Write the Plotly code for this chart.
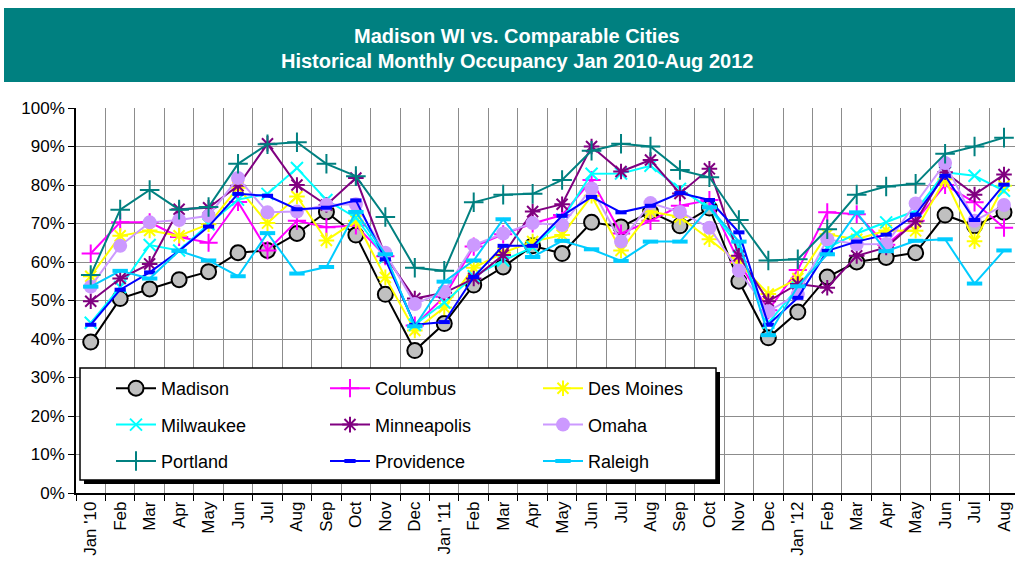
import plotly.graph_objects as go

# ---------------- data ----------------
months = ["Jan '10", "Feb", "Mar", "Apr", "May", "Jun", "Jul", "Aug", "Sep", "Oct", "Nov", "Dec",
          "Jan '11", "Feb", "Mar", "Apr", "May", "Jun", "Jul", "Aug", "Sep", "Oct", "Nov", "Dec",
          "Jan '12", "Feb", "Mar", "Apr", "May", "Jun", "Jul", "Aug"]

madison = [39.2, 50.5, 53.0, 55.4, 57.5, 62.4, 63.0, 67.4, 73.0, 67.0, 51.6, 37.0,
           44.0, 54.0, 58.7, 64.2, 62.2, 70.3, 69.1, 73.0, 69.4, 74.0, 55.0, 40.3,
           47.0, 56.1, 60.0, 61.2, 62.4, 72.2, 69.4, 72.9]
columbus = [62.2, 70.3, 70.3, 66.5, 65.0, 75.6, 63.0, 70.7, 69.0, 69.5, 61.5, 43.5,
            51.0, 64.0, 67.2, 70.0, 72.2, 81.3, 67.4, 70.7, 74.6, 76.1, 60.0, 47.5,
            57.9, 72.9, 72.4, 64.5, 70.7, 80.0, 75.5, 68.9]
des_moines = [56.3, 66.8, 68.2, 66.8, 69.8, 79.3, 70.1, 77.0, 65.6, 70.7, 56.0, 42.2,
              48.2, 58.5, 62.4, 65.3, 67.0, 77.2, 63.0, 73.1, 71.7, 65.9, 59.8, 51.7,
              55.7, 67.2, 65.9, 68.2, 68.1, 81.5, 65.4, 79.8]
milwaukee = [44.2, 53.5, 64.4, 63.0, 69.8, 76.2, 77.7, 84.4, 76.1, 71.5, 61.2, 43.7,
             49.5, 56.3, 60.4, 63.8, 71.0, 82.9, 83.0, 85.0, 79.0, 74.0, 64.0, 44.2,
             53.3, 63.7, 67.4, 70.3, 73.3, 83.3, 82.4, 78.5]
minneapolis = [49.8, 55.7, 59.5, 73.7, 74.1, 79.8, 90.7, 80.0, 74.8, 81.8, 61.6, 50.5,
               52.0, 55.7, 61.8, 73.1, 75.0, 90.0, 83.5, 86.5, 77.8, 84.2, 61.6, 49.8,
               54.3, 53.3, 61.6, 63.8, 70.5, 83.3, 77.5, 82.7]
omaha = [53.6, 64.2, 70.3, 70.9, 72.0, 81.8, 72.9, 73.1, 74.9, 75.0, 62.4, 49.1,
         52.3, 64.4, 67.4, 70.1, 69.6, 79.1, 65.3, 75.3, 73.0, 68.9, 57.8, 47.2,
         51.6, 65.9, 64.6, 64.7, 75.2, 85.7, 70.7, 74.8]
portland = [56.6, 73.6, 78.7, 73.6, 74.3, 85.5, 90.6, 91.1, 85.5, 82.3, 71.7, 58.5,
            57.7, 75.5, 77.5, 77.7, 81.3, 88.9, 90.7, 90.0, 83.9, 82.0, 70.9, 60.4,
            60.7, 68.5, 77.5, 79.6, 80.3, 88.1, 90.0, 92.3]
providence = [43.7, 52.8, 57.3, 62.9, 69.2, 77.7, 77.2, 73.7, 74.1, 76.0, 60.7, 43.7,
              44.4, 56.1, 64.2, 64.2, 72.0, 76.9, 72.9, 74.6, 77.9, 76.1, 67.7, 43.7,
              50.7, 62.9, 65.3, 67.1, 72.3, 82.4, 70.9, 80.1]
raleigh = [53.6, 57.7, 55.7, 62.9, 60.4, 56.3, 67.5, 57.0, 58.7, 73.0, 62.0, 43.3,
           54.9, 60.4, 71.1, 61.3, 65.5, 63.3, 60.3, 65.3, 65.3, 74.2, 65.3, 41.0,
           53.7, 62.0, 72.9, 62.8, 65.5, 65.9, 54.4, 63.0]

y_ticks = [0, 10, 20, 30, 40, 50, 60, 70, 80, 90, 100]

# ---------------- layout geometry ----------------
W, H = 1015, 564
L, R, T, B = 76, 0, 108, 71
PW, PH = W - L - R, H - T - B
FONT = "Arial, Liberation Sans, sans-serif"


def px(x):
    return (x - L) / PW


def py(y):
    return (H - B - y) / PH


x_idx = list(range(len(months)))

series = [
    ("Madison", madison, dict(color="#000000", width=2),
     dict(symbol="circle", size=15, color="#C0C0C0", line=dict(color="#000000", width=2)), "legend"),
    ("Columbus", columbus, dict(color="#FF00FF", width=2),
     dict(symbol="cross-thin-open", size=13, color="#FF00FF", line=dict(color="#FF00FF", width=2)), "legend2"),
    ("Des Moines", des_moines, dict(color="#FFFF00", width=2),
     dict(symbol="asterisk-open", size=13, color="#FFFF00", line=dict(color="#FFFF00", width=2)), "legend3"),
    ("Milwaukee", milwaukee, dict(color="#00FFFF", width=2),
     dict(symbol="x-thin-open", size=12, color="#00FFFF", line=dict(color="#00FFFF", width=2)), "legend"),
    ("Minneapolis", minneapolis, dict(color="#800080", width=2),
     dict(symbol="asterisk-open", size=13, color="#800080", line=dict(color="#800080", width=2)), "legend2"),
    ("Omaha", omaha, dict(color="#CC99FF", width=2),
     dict(symbol="circle", size=14, color="#CC99FF", line=dict(color="#CC99FF", width=0)), "legend3"),
    ("Portland", portland, dict(color="#008080", width=2),
     dict(symbol="cross-thin-open", size=14, color="#008080", line=dict(color="#008080", width=2)), "legend"),
    ("Providence", providence, dict(color="#0000FF", width=2),
     dict(symbol="line-ew-open", size=8, color="#0000FF", line=dict(color="#0000FF", width=4)), "legend2"),
    ("Raleigh", raleigh, dict(color="#00CCFF", width=2),
     dict(symbol="line-ew-open", size=11, color="#00CCFF", line=dict(color="#00CCFF", width=4)), "legend3"),
]

fig = go.Figure()
for name, vals, line, marker, leg in series:
    fig.add_trace(go.Scatter(x=x_idx, y=vals, name=name, mode="lines+markers",
                             line=line, marker=marker, legend=leg, legendgroup=name,
                             cliponaxis=False))

legend_common = dict(bgcolor="rgba(0,0,0,0)", borderwidth=0, xanchor="left", yanchor="top",
                     font=dict(family=FONT, size=18, color="#000000"),
                     tracegroupgap=10, itemwidth=40, itemclick=False)

fig.update_layout(
    width=W, height=H,
    margin=dict(l=L, r=R, t=T, b=B, pad=0),
    paper_bgcolor="#FFFFFF", plot_bgcolor="#FFFFFF",
    font=dict(family=FONT, size=17, color="#000000"),
    showlegend=True,
    legend=dict(x=px(111), y=py(370), **legend_common),
    legend2=dict(x=px(325), y=py(370), **legend_common),
    legend3=dict(x=px(538), y=py(370), **legend_common),
    xaxis=dict(
        range=[-0.5, 31.373], tickmode="array", tickvals=x_idx, ticktext=months,
        tickangle=-90, ticks="", showgrid=False, zeroline=False,
        showline=True, linecolor="#000000", linewidth=1.5,
        tickfont=dict(family=FONT, size=17, color="#000000"),
        minor=dict(tickmode="array", tickvals=[i - 0.5 for i in range(len(months) + 1)],
                   ticks="outside", ticklen=6, tickcolor="#000000", tickwidth=1,
                   showgrid=True, gridcolor="#8C8C8C", gridwidth=1),
    ),
    yaxis=dict(
        range=[0, 100], tickmode="array", tickvals=y_ticks,
        ticktext=[f"{v}%" for v in y_ticks],
        ticks="outside", ticklen=6, tickcolor="#000000",
        showgrid=True, gridcolor="#8C8C8C", gridwidth=1, zeroline=False,
        showline=True, linecolor="#000000", linewidth=1.5,
        tickfont=dict(family=FONT, size=17, color="#000000"),
    ),
    shapes=[
        # title banner
        dict(type="rect", xref="paper", yref="paper", x0=px(4), x1=px(1015), y0=py(82), y1=py(8),
             fillcolor="#008080", line=dict(width=0), layer="above"),
        # legend shadow and box
        dict(type="rect", xref="paper", yref="paper", x0=px(84), x1=px(720), y0=py(484), y1=py(372),
             fillcolor="#000000", line=dict(width=0), layer="above"),
        dict(type="rect", xref="paper", yref="paper", x0=px(80), x1=px(716), y0=py(480), y1=py(368),
             fillcolor="#FFFFFF", line=dict(color="#000000", width=1.5), layer="above"),
    ],
    annotations=[
        dict(xref="paper", yref="paper", x=px(517), y=py(36), text="<b>Madison WI vs. Comparable Cities</b>",
             showarrow=False, xanchor="center", yanchor="middle",
             font=dict(family=FONT, size=20, color="#FFFFFF")),
        dict(xref="paper", yref="paper", x=px(517), y=py(61),
             text="<b>Historical Monthly Occupancy Jan 2010-Aug 2012</b>",
             showarrow=False, xanchor="center", yanchor="middle",
             font=dict(family=FONT, size=20, color="#FFFFFF")),
    ],
)

fig.write_html("out.html",
               config={"displayModeBar": False},
               post_script="document.body.style.margin='0';document.body.style.padding='0';"
                           "document.documentElement.style.margin='0';")
